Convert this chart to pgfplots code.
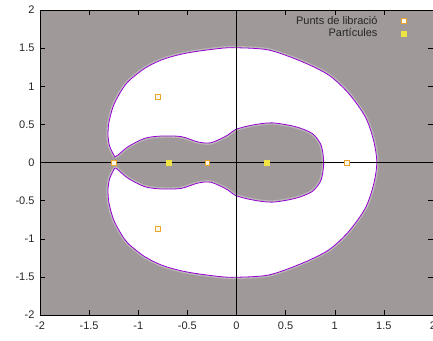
\documentclass[border=0pt]{standalone}
\usepackage{fontspec}
\setmainfont{Liberation Sans}
\usepackage{pgfplots}
\usepackage{pgfplotstable}
\pgfplotsset{compat=1.18}
\definecolor{bg}{RGB}{160,153,153}
\definecolor{curve}{RGB}{148,0,211}
\definecolor{lib}{RGB}{232,165,40}
\definecolor{part}{RGB}{240,228,66}

\pgfplotstableread{
x y
-1.239 0.076
-1.289 0.207
-1.307 0.338
-1.300 0.514
-1.256 0.732
-1.188 0.907
-1.104 1.060
-0.934 1.235
-0.765 1.344
-0.596 1.410
-0.426 1.453
-0.155 1.498
0.000 1.505
0.328 1.475
0.667 1.322
0.937 1.148
1.140 0.908
1.310 0.600
1.394 0.295
1.428 0.000
1.394 -0.295
1.310 -0.600
1.140 -0.908
0.937 -1.148
0.667 -1.322
0.328 -1.475
0.000 -1.505
-0.155 -1.498
-0.426 -1.453
-0.596 -1.410
-0.765 -1.344
-0.934 -1.235
-1.104 -1.060
-1.188 -0.907
-1.256 -0.732
-1.300 -0.514
-1.307 -0.338
-1.289 -0.207
-1.239 -0.076
-1.205 -0.098
-1.104 -0.207
-0.934 -0.317
-0.765 -0.347
-0.561 -0.339
-0.393 -0.270
-0.257 -0.260
-0.088 -0.360
-0.010 -0.433
0.159 -0.490
0.362 -0.520
0.599 -0.470
0.768 -0.383
0.853 -0.250
0.880 -0.120
0.887 0.000
0.880 0.120
0.853 0.250
0.768 0.383
0.599 0.470
0.362 0.520
0.159 0.490
-0.010 0.433
-0.088 0.360
-0.257 0.260
-0.393 0.270
-0.561 0.339
-0.765 0.347
-0.934 0.317
-1.104 0.207
-1.205 0.098
-1.239 0.076
}\shape

\begin{document}
\begin{tikzpicture}
\begin{axis}[
  scale only axis, width=393pt, height=305pt,
  xmin=-2, xmax=2, ymin=-2, ymax=2,
  xtick={-2,-1.5,...,2}, ytick={-2,-1.5,...,2},
  axis background/.style={fill=bg},
  axis line style={black, line width=0.5pt},
  tick style={black, line width=0.4pt},
  major tick length=5pt,
  ticklabel style={font=\fontsize{11}{13}\selectfont, text=black!85},
  /pgf/number format/assume math mode=true,
  xticklabel style={yshift=-3pt},
  yticklabel style={xshift=-2pt},
  legend plot pos=right,
  legend cell align=right,
  legend style={at={(0.935,0.99)}, anchor=north east, draw=none, fill=none,
    font=\fontsize{11}{13}\selectfont, text=black!85, column sep=22pt, row sep=-1pt, inner sep=1pt},
]
\coordinate (SW) at (rel axis cs:0,0);
\coordinate (NE) at (rel axis cs:1,1);
\addplot[forget plot, smooth, tension=0.5, draw=white, opacity=0.3, line width=3.5pt] table {\shape};
\addplot[forget plot, smooth, tension=0.5, fill=white, draw=curve, line width=0.8pt] table {\shape};
\addplot[forget plot, black, line width=0.5pt] coordinates {(-2,0) (2,0)};
\addplot[forget plot, black, line width=0.5pt] coordinates {(0,-2) (0,2)};
\addplot[only marks, mark=square*, mark size=2.4pt, mark options={draw=lib, fill=white!92!lib, line width=0.7pt}]
  coordinates {(-1.245,0) (-0.297,0) (1.124,0) (-0.8,0.86) (-0.8,-0.866)};
\addlegendentry{Punts de libració}
\addplot[only marks, mark=square*, mark size=2.3pt, mark options={draw=part, fill=part}]
  coordinates {(-0.69,0) (0.308,0)};
\addlegendentry{Partícules}
\end{axis}
\pgfresetboundingbox
\path[use as bounding box] ([xshift=-40pt,yshift=-25pt]SW) rectangle ([yshift=10pt]NE);
\end{tikzpicture}
\end{document}
